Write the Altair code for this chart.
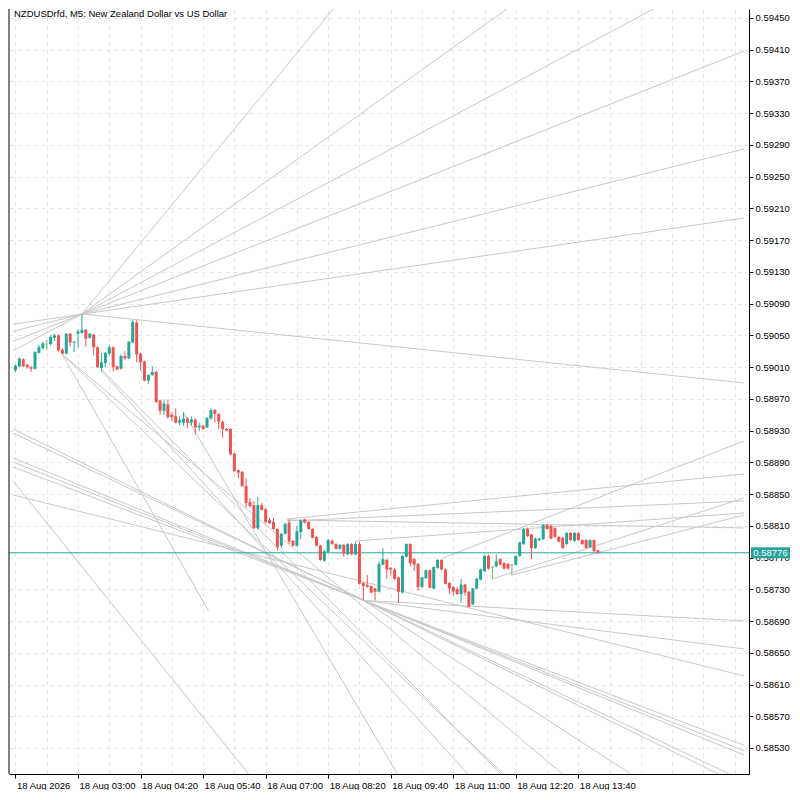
import json
import numpy as np
import pandas as pd
import altair as alt

# ---------------- data ----------------
title_text = "NZDUSDrfd, M5:  New Zealand Dollar vs US Dollar"
time_labels = ["18 Aug 2026", "18 Aug 03:00", "18 Aug 04:20", "18 Aug 05:40", "18 Aug 07:00",
               "18 Aug 08:20", "18 Aug 09:40", "18 Aug 11:00", "18 Aug 12:20", "18 Aug 13:40"]
price_ticks = [0.5853, 0.5857, 0.5861, 0.5865, 0.5869, 0.5873, 0.5877, 0.5881, 0.5885, 0.5889,
               0.5893, 0.5897, 0.5901, 0.5905, 0.5909, 0.5913, 0.5917, 0.5921, 0.5925, 0.5929,
               0.5933, 0.5937, 0.5941, 0.5945]

opens = [0.59006, 0.59011, 0.59020, 0.59013, 0.59010, 0.59008, 0.59028, 0.59034, 0.59039, 0.59039,
         0.59047, 0.59050, 0.59032, 0.59027, 0.59052, 0.59041, 0.59052, 0.59053, 0.59057, 0.59047,
         0.59051, 0.59035, 0.59009, 0.59015, 0.59027, 0.59035, 0.59011, 0.59008, 0.59024, 0.59021,
         0.59041, 0.59066, 0.59027, 0.59017, 0.58993, 0.59000, 0.59004, 0.58968, 0.58955, 0.58963,
         0.58950, 0.58948, 0.58940, 0.58940, 0.58945, 0.58940, 0.58944, 0.58934, 0.58936, 0.58934,
         0.58945, 0.58956, 0.58951, 0.58941, 0.58932, 0.58932, 0.58901, 0.58880, 0.58878, 0.58860,
         0.58840, 0.58836, 0.58807, 0.58836, 0.58831, 0.58817, 0.58815, 0.58806, 0.58785, 0.58800,
         0.58814, 0.58791, 0.58785, 0.58802, 0.58818, 0.58815, 0.58806, 0.58796, 0.58785, 0.58766,
         0.58777, 0.58791, 0.58787, 0.58781, 0.58786, 0.58774, 0.58787, 0.58774, 0.58787, 0.58738,
         0.58735, 0.58734, 0.58731, 0.58727, 0.58761, 0.58767, 0.58757, 0.58755, 0.58745, 0.58726,
         0.58771, 0.58787, 0.58768, 0.58762, 0.58733, 0.58744, 0.58754, 0.58731, 0.58757, 0.58767,
         0.58755, 0.58738, 0.58733, 0.58730, 0.58724, 0.58736, 0.58727, 0.58711, 0.58731, 0.58742,
         0.58753, 0.58772, 0.58758, 0.58759, 0.58768, 0.58763, 0.58762, 0.58761, 0.58761, 0.58772,
         0.58787, 0.58806, 0.58799, 0.58782, 0.58792, 0.58793, 0.58811, 0.58810, 0.58807, 0.58796,
         0.58795, 0.58787, 0.58801, 0.58791, 0.58801, 0.58792, 0.58792, 0.58783, 0.58792, 0.58779]
highs = [0.59013, 0.59022, 0.59021, 0.59014, 0.59011, 0.59030, 0.59038, 0.59042, 0.59044, 0.59050,
         0.59052, 0.59051, 0.59034, 0.59053, 0.59053, 0.59043, 0.59058, 0.59077, 0.59058, 0.59053,
         0.59052, 0.59036, 0.59028, 0.59029, 0.59038, 0.59036, 0.59012, 0.59026, 0.59030, 0.59043,
         0.59069, 0.59069, 0.59028, 0.59018, 0.59001, 0.59011, 0.59005, 0.58969, 0.58968, 0.58969,
         0.58953, 0.58958, 0.58948, 0.58953, 0.58947, 0.58948, 0.58945, 0.58940, 0.58937, 0.58947,
         0.58958, 0.58957, 0.58952, 0.58943, 0.58933, 0.58933, 0.58902, 0.58881, 0.58879, 0.58870,
         0.58845, 0.58841, 0.58846, 0.58839, 0.58832, 0.58820, 0.58820, 0.58807, 0.58801, 0.58814,
         0.58818, 0.58792, 0.58810, 0.58818, 0.58819, 0.58816, 0.58807, 0.58797, 0.58786, 0.58780,
         0.58793, 0.58793, 0.58788, 0.58787, 0.58787, 0.58788, 0.58788, 0.58790, 0.58790, 0.58739,
         0.58748, 0.58735, 0.58732, 0.58765, 0.58782, 0.58768, 0.58758, 0.58757, 0.58746, 0.58773,
         0.58788, 0.58788, 0.58770, 0.58763, 0.58746, 0.58755, 0.58755, 0.58759, 0.58768, 0.58768,
         0.58756, 0.58739, 0.58734, 0.58733, 0.58743, 0.58737, 0.58728, 0.58732, 0.58745, 0.58756,
         0.58773, 0.58774, 0.58759, 0.58774, 0.58769, 0.58764, 0.58763, 0.58762, 0.58773, 0.58790,
         0.58807, 0.58808, 0.58800, 0.58795, 0.58795, 0.58812, 0.58812, 0.58811, 0.58808, 0.58797,
         0.58796, 0.58802, 0.58802, 0.58802, 0.58802, 0.58793, 0.58793, 0.58793, 0.58793, 0.58780]
lows = [0.59004, 0.59010, 0.59010, 0.59008, 0.59004, 0.59007, 0.59027, 0.59032, 0.59032, 0.59037,
        0.59043, 0.59030, 0.59026, 0.59026, 0.59036, 0.59029, 0.59035, 0.59052, 0.59036, 0.59046,
        0.59025, 0.59009, 0.59005, 0.59010, 0.59025, 0.59005, 0.59006, 0.59007, 0.59019, 0.59020,
        0.59040, 0.59016, 0.59006, 0.58992, 0.58989, 0.58999, 0.58965, 0.58950, 0.58950, 0.58945,
        0.58942, 0.58939, 0.58937, 0.58936, 0.58933, 0.58936, 0.58925, 0.58929, 0.58931, 0.58933,
        0.58944, 0.58940, 0.58932, 0.58921, 0.58929, 0.58899, 0.58878, 0.58870, 0.58859, 0.58833,
        0.58833, 0.58806, 0.58805, 0.58829, 0.58813, 0.58812, 0.58805, 0.58779, 0.58782, 0.58799,
        0.58787, 0.58784, 0.58784, 0.58793, 0.58813, 0.58805, 0.58794, 0.58784, 0.58766, 0.58765,
        0.58776, 0.58786, 0.58780, 0.58780, 0.58771, 0.58773, 0.58773, 0.58773, 0.58736, 0.58716,
        0.58732, 0.58725, 0.58716, 0.58726, 0.58760, 0.58743, 0.58747, 0.58742, 0.58713, 0.58725,
        0.58770, 0.58759, 0.58753, 0.58728, 0.58732, 0.58743, 0.58731, 0.58730, 0.58756, 0.58754,
        0.58736, 0.58724, 0.58722, 0.58723, 0.58713, 0.58722, 0.58707, 0.58710, 0.58730, 0.58741,
        0.58752, 0.58755, 0.58743, 0.58758, 0.58760, 0.58755, 0.58755, 0.58748, 0.58760, 0.58771,
        0.58786, 0.58796, 0.58768, 0.58781, 0.58791, 0.58792, 0.58805, 0.58793, 0.58795, 0.58789,
        0.58781, 0.58786, 0.58791, 0.58790, 0.58791, 0.58786, 0.58781, 0.58782, 0.58777, 0.58775]
closes = [0.59012, 0.59021, 0.59011, 0.59010, 0.59008, 0.59029, 0.59035, 0.59040, 0.59039, 0.59048,
          0.59050, 0.59031, 0.59027, 0.59052, 0.59041, 0.59042, 0.59055, 0.59057, 0.59046, 0.59052,
          0.59035, 0.59010, 0.59016, 0.59028, 0.59035, 0.59010, 0.59007, 0.59024, 0.59021, 0.59042,
          0.59067, 0.59026, 0.59016, 0.58993, 0.59000, 0.59004, 0.58966, 0.58955, 0.58964, 0.58947,
          0.58947, 0.58940, 0.58943, 0.58945, 0.58940, 0.58944, 0.58934, 0.58936, 0.58932, 0.58946,
          0.58956, 0.58951, 0.58941, 0.58932, 0.58930, 0.58900, 0.58879, 0.58877, 0.58860, 0.58839,
          0.58835, 0.58807, 0.58836, 0.58830, 0.58815, 0.58813, 0.58806, 0.58783, 0.58800, 0.58812,
          0.58790, 0.58785, 0.58803, 0.58817, 0.58814, 0.58806, 0.58795, 0.58785, 0.58767, 0.58778,
          0.58792, 0.58787, 0.58781, 0.58786, 0.58775, 0.58787, 0.58774, 0.58787, 0.58737, 0.58734,
          0.58733, 0.58726, 0.58727, 0.58762, 0.58768, 0.58755, 0.58755, 0.58743, 0.58727, 0.58772,
          0.58787, 0.58763, 0.58761, 0.58733, 0.58745, 0.58754, 0.58732, 0.58758, 0.58767, 0.58755,
          0.58737, 0.58731, 0.58727, 0.58724, 0.58736, 0.58726, 0.58708, 0.58731, 0.58743, 0.58755,
          0.58772, 0.58756, 0.58758, 0.58765, 0.58761, 0.58756, 0.58756, 0.58761, 0.58772, 0.58789,
          0.58806, 0.58797, 0.58782, 0.58794, 0.58794, 0.58811, 0.58806, 0.58794, 0.58796, 0.58790,
          0.58782, 0.58801, 0.58792, 0.58801, 0.58792, 0.58787, 0.58782, 0.58792, 0.58778, 0.58776]

# trend / fan lines: start bar, start price, end bar, end price
line_x1 = [17, 17, -0.625, -0.625, -0.625, -0.625, 17,
           -0.625, -0.625, -0.625, -0.625, -0.625, -0.625, -0.625,
           89, 89, 89, 12, 12, 12, 21.9, 22, 43,
           69.4, 69.4, 69.4, 86.9, 109.4, 122, 127]
line_p1 = [0.59077, 0.59077, 0.590306, 0.590423, 0.590552, 0.590641, 0.59077,
           0.58932, 0.58927, 0.588955, 0.588904, 0.588842, 0.588489, 0.588665,
           0.58716, 0.58716, 0.58716, 0.59026, 0.59026, 0.59026, 0.590077, 0.59005, 0.58953,
           0.588174, 0.588161, 0.588186, 0.587909, 0.587695, 0.58743, 0.58748]
line_x2 = [82.9, 128.4, 166.9, 186.4, 186.4, 186.4, 186.4,
           186.4, 186.4, 186.4, 186.4, 186.4, 186.4, 64.4,
           186.4, 186.4, 166.9, 49.4, 144.4, 129.4, 126.9, 119.4, 99.9,
           186.4, 186.4, 186.4, 186.4, 186.4, 186.4, 186.4]
line_p2 = [0.59471, 0.59471, 0.59471, 0.594084, 0.592849, 0.591979, 0.58990,
           0.584815, 0.584884, 0.585212, 0.585266, 0.585333, 0.586208, 0.584683,
           0.586901, 0.586548, 0.58467, 0.587027, 0.58479, 0.584758, 0.584837, 0.584775, 0.58479,
           0.588073, 0.588413, 0.588753, 0.588262, 0.589169, 0.588451, 0.588237]

# ---------------- chart ----------------
W, H = 740, 765
FONT = "Liberation Sans"
UP, DOWN, DOJI = "#26A69A", "#EF5350", "#66BB6A"

n = len(opens)
df = pd.DataFrame({"i": np.arange(n), "o": opens, "h": highs, "l": lows, "c": closes})
df["dir"] = np.where(df.c > df.o, "up", np.where(df.c < df.o, "down", "doji"))
lines_df = pd.DataFrame({"x1": line_x1, "p1": line_p1, "x2": line_x2, "p2": line_p2})
last = pd.DataFrame({"p": [closes[-1]], "t": ["%.5f" % closes[-1]]})

xscale = alt.Scale(domain=[-0.375, 186.375], nice=False, zero=False)
yscale = alt.Scale(domain=[0.5849723, 0.5946132], nice=False, zero=False)

label_expr = ("(datum.value % 16 === 0 && datum.value <= 144) ? "
              + json.dumps(time_labels) + "[datum.value / 16] : ''")
xaxis = alt.Axis(values=list(range(0, 185, 8)), labelExpr=label_expr, title=None,
                 grid=True, gridDash=[4, 4], gridColor="#E4E4E4",
                 tickSize=4, tickColor="black",
                 tickOpacity={"condition": {"test": "datum.value % 16 === 0 && datum.value <= 144", "value": 1}, "value": 0},
                 domainColor="black", labelAlign="left", labelOffset=1, labelPadding=2,
                 labelFont=FONT, labelFontSize=9.5, labelColor="black",
                 labelOverlap=False, labelFlush=False)
yaxis = alt.Axis(orient="right", values=price_ticks, format=".5f", title=None,
                 grid=True, gridDash=[4, 4], gridColor="#E4E4E4",
                 tickSize=4, tickColor="black", domainColor="black", labelPadding=2,
                 labelFont=FONT, labelFontSize=9.5, labelColor="black",
                 labelOverlap=False, labelFlush=False)


def X(f):
    return alt.X(f, type="quantitative", scale=xscale, axis=xaxis)


def Y(f):
    return alt.Y(f, type="quantitative", scale=yscale, axis=yaxis)


color = alt.Color("dir:N", scale=alt.Scale(domain=["up", "down", "doji"], range=[UP, DOWN, DOJI]),
                  legend=None)

fan = alt.Chart(lines_df).mark_rule(clip=True, color="#C8C8C8", strokeWidth=1).encode(
    x=X("x1"), y=Y("p1"), x2=alt.X2("x2"), y2=alt.Y2("p2"))

price_line = alt.Chart(last).mark_rule(color=UP, strokeWidth=1).encode(y=Y("p"))

wicks = alt.Chart(df).mark_rule(strokeWidth=1).encode(
    x=X("i"), y=Y("l"), y2=alt.Y2("h"), color=color)

bodies = alt.Chart(df).transform_filter("datum.dir != 'doji'").mark_bar(size=3).encode(
    x=X("i"), y=Y("o"), y2=alt.Y2("c"), color=color)

doji = alt.Chart(df).transform_filter("datum.dir == 'doji'").mark_tick(
    orient="horizontal", size=3, thickness=1, color=DOJI).encode(x=X("i"), y=Y("o"))

box = alt.Chart(last).mark_rect(color=UP, height=11).encode(
    x=alt.value(W + 2), x2=alt.value(W + 41), y=Y("p"))

box_text = alt.Chart(last).mark_text(color="white", font=FONT, fontSize=9.5,
                                     align="center", baseline="middle").encode(
    x=alt.value(W + 21.5), y=Y("p"), text="t:N")

title = alt.Chart(pd.DataFrame({"t": [title_text]})).mark_text(
    align="left", baseline="top", font=FONT, fontSize=9.5, color="black").encode(
    x=alt.value(5), y=alt.value(0), text="t:N")

border = alt.Chart(pd.DataFrame({"a": [0]})).mark_rule(color="black").encode(
    x=alt.value(0), y=alt.value(0), y2=alt.value(H))

chart = alt.layer(fan, price_line, wicks, bodies, doji, box, box_text, title, border).properties(
    width=W, height=H, padding=0, background="white"
).configure_view(stroke="transparent")

chart.save("out.html", embed_options={"renderer": "svg", "actions": False})
